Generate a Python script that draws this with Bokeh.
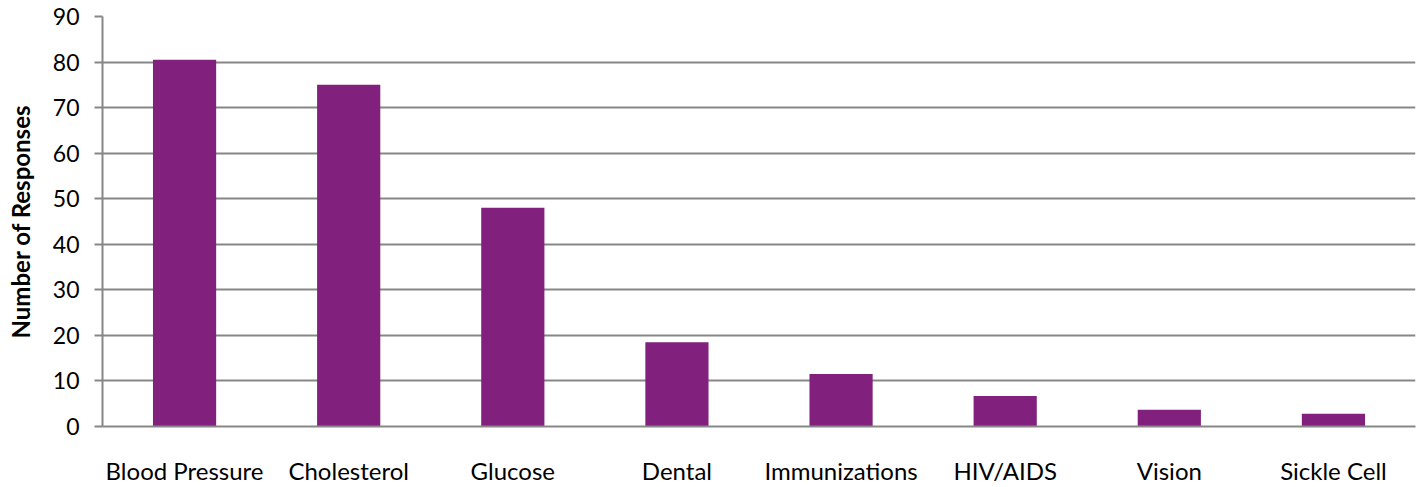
from bokeh.plotting import figure
from bokeh.models import FixedTicker
from bokeh.embed import file_html
from bokeh.resources import INLINE

categories = ["Blood Pressure", "Cholesterol", "Glucose", "Dental",
              "Immunizations", "HIV/AIDS", "Vision", "Sickle Cell"]
responses = [80.5, 75, 48, 18.5, 11.5, 6.7, 3.7, 2.8]
y_ticks = [0, 10, 20, 30, 40, 50, 60, 70, 80, 90]

FONT = "Lato"
GREY = "#878787"

p = figure(x_range=categories, y_range=(0, 90), width=1422, height=487,
           output_backend="svg", toolbar_location=None,
           min_border_left=102, min_border_right=7, min_border_top=16,
           min_border_bottom=59)
p.outline_line_color = None

p.vbar(x=categories, top=responses, width=0.385, color="#82207D", line_color=None)
p.x_range.range_padding = 0

p.yaxis.ticker = FixedTicker(ticks=y_ticks)
p.yaxis.minor_tick_line_color = None
p.yaxis.major_tick_out = 8
p.yaxis.major_tick_in = 0
p.yaxis.major_tick_line_color = GREY
p.yaxis.major_tick_line_width = 2
p.yaxis.axis_line_color = GREY
p.yaxis.axis_line_width = 2
p.yaxis.major_label_standoff = 15
p.yaxis.major_label_text_font = FONT
p.yaxis.major_label_text_font_size = "23px"
p.yaxis.major_label_text_color = "#000000"
p.yaxis.axis_label = "Number of Responses"
p.yaxis.axis_label_text_font = FONT
p.yaxis.axis_label_text_font_style = "bold"
p.yaxis.axis_label_text_font_size = "24px"
p.yaxis.axis_label_text_color = "#000000"
p.yaxis.axis_label_standoff = 15

p.xaxis.major_tick_line_color = None
p.xaxis.minor_tick_line_color = None
p.xaxis.axis_line_color = GREY
p.xaxis.axis_line_width = 2
p.xaxis.major_label_standoff = 23
p.xaxis.major_label_text_font = FONT
p.xaxis.major_label_text_font_size = "24px"
p.xaxis.major_label_text_color = "#000000"

p.xgrid.grid_line_color = None
p.ygrid.grid_line_color = GREY
p.ygrid.grid_line_width = 2

open("out.html", "w").write(file_html(p, INLINE))
